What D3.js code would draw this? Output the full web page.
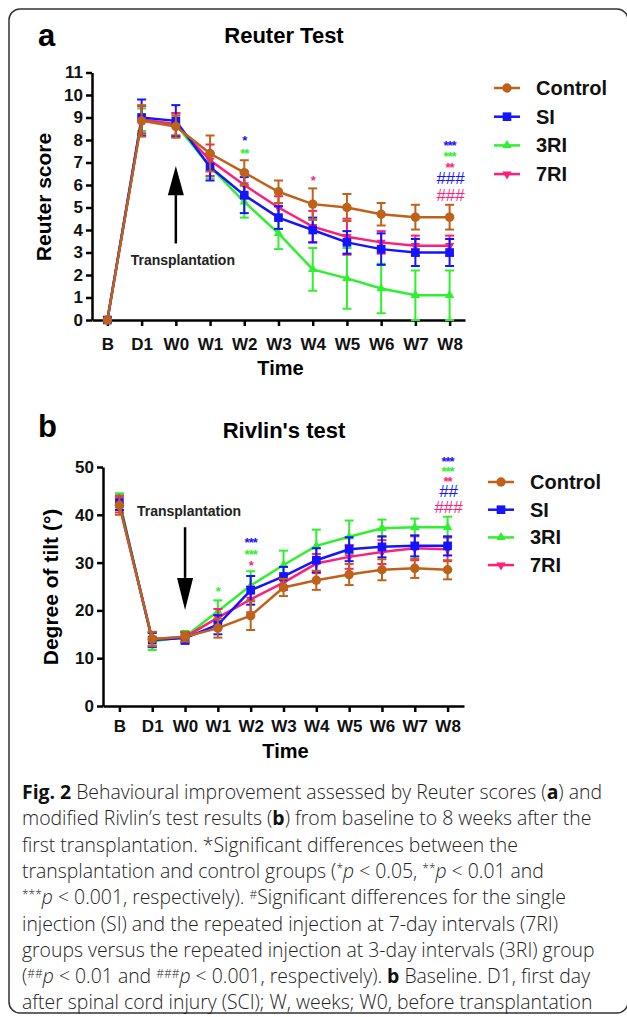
<!DOCTYPE html>
<html>
<head>
<meta charset="utf-8">
<script src="https://cdn.jsdelivr.net/npm/d3@7"></script>
<style>
  body { margin: 0; background: #fff; }
  svg text { font-family: 'Liberation Sans', Arial, sans-serif; }
  .cap { font-family: 'Open Sans', sans-serif !important; font-size: 19.4px; fill: #222; font-weight: 300; }
</style>
</head>
<body>
<svg id="fig" width="627" height="1017"></svg>
<script>
// ---- data ----
var categories = ['B', 'D1', 'W0', 'W1', 'W2', 'W3', 'W4', 'W5', 'W6', 'W7', 'W8'];
var groups = ['Control', 'SI', '3RI', '7RI'];
var colors = ['#c0611a', '#1414ff', '#2ef02e', '#ff1f7a'];

var reuterControl = [0, 8.85, 8.6, 7.4, 6.55, 5.7, 5.15, 5.0, 4.7, 4.57, 4.57];
var reuterControlErr = [0, 0.7, 0.5, 0.8, 0.55, 0.5, 0.7, 0.6, 0.5, 0.55, 0.55];
var reuterSI = [0, 9.0, 8.85, 6.8, 5.55, 4.55, 4.0, 3.45, 3.15, 3.0, 3.0];
var reuterSIErr = [0, 0.8, 0.7, 0.6, 0.8, 0.5, 0.55, 0.5, 0.7, 0.6, 0.6];
var reuter3RI = [0, 8.9, 8.7, 6.8, 5.25, 3.85, 2.25, 1.85, 1.4, 1.1, 1.1];
var reuter3RIErr = [0, 0.5, 0.5, 0.5, 0.7, 0.7, 0.95, 1.35, 1.1, 1.1, 1.1];
var reuter7RI = [0, 8.9, 8.7, 7.1, 6.0, 5.0, 4.15, 3.7, 3.45, 3.3, 3.3];
var reuter7RIErr = [0, 0.6, 0.5, 0.7, 0.6, 0.5, 0.7, 0.8, 0.5, 0.45, 0.45];

var rivlinControl = [42, 14.0, 14.5, 16.3, 18.9, 24.8, 26.3, 27.5, 28.5, 28.8, 28.5];
var rivlinControlErr = [2, 1.5, 1.0, 2.0, 3.0, 1.8, 2.0, 2.2, 2.2, 2.0, 2.0];
var rivlinSI = [42.5, 13.8, 14.2, 17.0, 24.2, 27.1, 30.5, 32.8, 33.3, 33.5, 33.5];
var rivlinSIErr = [1.5, 1.5, 1.2, 2.0, 3.0, 2.0, 2.5, 2.5, 2.2, 2.2, 2.0];
var rivlin3RI = [43, 13.5, 14.5, 19.8, 25.2, 29.5, 33.5, 35.4, 37.2, 37.4, 37.4];
var rivlin3RIErr = [1.5, 1.8, 1.2, 2.3, 3.0, 3.0, 3.4, 3.4, 1.8, 1.8, 2.2];
var rivlin7RI = [42, 14.0, 14.4, 18.5, 22.3, 25.8, 29.8, 31.2, 32.2, 33.0, 32.8];
var rivlin7RIErr = [1.5, 1.5, 1.0, 1.8, 2.7, 1.5, 2.0, 2.5, 2.5, 2.5, 2.5];

var reuterTicks = [0, 1, 2, 3, 4, 5, 6, 7, 8, 9, 10, 11];
var rivlinTicks = [0, 10, 20, 30, 40, 50];

// significance marks: [category, group index, text, value where the mark sits]
var reuterSig = [
  ['W2', 1, '*', 8.1], ['W2', 2, '**', 7.5], ['W4', 3, '*', 6.3],
  ['W8', 1, '***', 7.85], ['W8', 2, '***', 7.4], ['W8', 3, '**', 6.9],
  ['W8', 1, '###', 6.3], ['W8', 3, '###', 5.55]
];
var rivlinSig = [
  ['W1', 2, '*', 24.5],
  ['W2', 1, '***', 34.7], ['W2', 2, '***', 32.2], ['W2', 3, '*', 29.9],
  ['W8', 1, '***', 51.7], ['W8', 2, '***', 49.6], ['W8', 3, '**', 47.5],
  ['W8', 1, '##', 45.0], ['W8', 3, '###', 41.6]
];

var svg = d3.select('#fig');

// frame
svg.append('rect').attr('x', 9).attr('y', 9).attr('width', 619).attr('height', 1004)
  .attr('rx', 11).attr('fill', 'none').attr('stroke', '#333').attr('stroke-width', 1.5);

var symbols = [d3.symbolCircle, d3.symbolSquare, d3.symbolTriangle, d3.symbolTriangle];
var symSizes = [70, 75, 38, 38];

function marker(g, i, x, y) {
  g.append('path')
    .attr('d', d3.symbol().type(symbols[i]).size(symSizes[i])())
    .attr('transform', 'translate(' + x + ',' + y + ')' + (i === 3 ? ' rotate(180)' : ''))
    .attr('fill', colors[i]);
}

function panel(opt) {
  var g = svg.append('g');
  var x = d3.scalePoint().domain(categories).range([opt.left, opt.right]).padding(opt.pad);
  var y = d3.scaleLinear().domain(opt.domain).range([opt.bottom, opt.top]);

  g.append('text').attr('x', 38).attr('y', opt.letterY).text(opt.letter)
    .attr('font-size', 31).attr('font-weight', 700);
  g.append('text').attr('x', 284).attr('y', opt.titleY).text(opt.title)
    .attr('text-anchor', 'middle').attr('font-size', 22).attr('font-weight', 700);

  var ya = g.append('g').attr('transform', 'translate(' + opt.left + ',0)')
    .call(d3.axisLeft(y).tickValues(opt.ticks).tickSize(6).tickPadding(opt.yPad).tickSizeOuter(0));
  var xa = g.append('g').attr('transform', 'translate(0,' + opt.bottom + ')')
    .call(d3.axisBottom(x).tickSize(6).tickPadding(opt.xPad).tickSizeOuter(0));
  [ya, xa].forEach(function(a) {
    a.selectAll('path, line').attr('stroke', '#000').attr('stroke-width', 2.5);
    a.selectAll('text').attr('font-size', 17).attr('font-weight', 700).attr('fill', '#111')
      .attr('font-family', 'Liberation Sans, Arial, sans-serif');
  });

  g.append('text').attr('transform', 'translate(' + opt.ylabX + ',' + opt.ylabY + ') rotate(-90)')
    .attr('text-anchor', 'middle').attr('font-size', 21).attr('font-weight', 700).text(opt.ylabel);
  g.append('text').attr('x', (opt.left + opt.right) / 2 + 2).attr('y', opt.timeY)
    .attr('text-anchor', 'middle').attr('font-size', 20).attr('font-weight', 700).text('Time');

  // arrow + label
  var ax = x('W0');
  g.append('line').attr('x1', ax).attr('x2', ax).attr('y1', y(opt.arrow[0])).attr('y2', y(opt.arrow[1]))
    .attr('stroke', '#000').attr('stroke-width', 2.5);
  var hb = y(opt.arrow[1]), ht = y(opt.arrow[2]);
  g.append('path').attr('d', 'M' + (ax - 8) + ',' + hb + 'L' + (ax + 8) + ',' + hb + 'L' + ax + ',' + ht + 'Z')
    .attr('fill', '#000');
  g.append('text').attr('x', ax + opt.tlDx).attr('y', y(opt.tlVal)).attr('text-anchor', 'middle')
    .attr('font-size', 14).attr('font-weight', 700).attr('fill', '#222').text('Transplantation');

  // series, drawn green, pink, blue, brown so brown ends on top
  var order = [2, 3, 1, 0];
  var line = d3.line().x(function(d, i) { return x(categories[i]); }).y(function(d) { return y(d); });
  order.forEach(function(gi) {
    var s = g.append('g');
    var vals = opt.series[gi], err = opt.errs[gi];
    s.append('path').datum(vals).attr('d', line).attr('fill', 'none')
      .attr('stroke', colors[gi]).attr('stroke-width', 2.5);
    vals.forEach(function(v, i) {
      if (!err[i]) return;
      var cx = x(categories[i]);
      var lo = y(Math.max(opt.domain[0], v - err[i])), hi = y(v + err[i]);
      s.append('line').attr('x1', cx).attr('x2', cx).attr('y1', lo).attr('y2', hi)
        .attr('stroke', colors[gi]).attr('stroke-width', 2);
      [lo, hi].forEach(function(yy) {
        s.append('line').attr('x1', cx - 4.5).attr('x2', cx + 4.5).attr('y1', yy).attr('y2', yy)
          .attr('stroke', colors[gi]).attr('stroke-width', 2);
      });
    });
    vals.forEach(function(v, i) { marker(s, gi, x(categories[i]), y(v)); });
  });

  // significance marks
  opt.sig.forEach(function(m) {
    var star = m[2].charAt(0) === '*';
    g.append('text').attr('x', x(m[0]) + (star ? 0 : 1)).attr('y', y(m[3]) + (star ? 7 : 6))
      .attr('text-anchor', 'middle').attr('fill', colors[m[1]])
      .attr('font-size', star ? 13 : 17).attr('font-weight', star ? 700 : 400)
      .attr('letter-spacing', star ? -1 : 0).text(m[2]);
  });

  // legend
  groups.forEach(function(name, i) {
    var ly = opt.legY + i * opt.legStep;
    g.append('line').attr('x1', opt.legX).attr('x2', opt.legX + 26).attr('y1', ly).attr('y2', ly)
      .attr('stroke', colors[i]).attr('stroke-width', 2.5);
    marker(g, i, opt.legX + 13, ly);
    g.append('text').attr('x', opt.legX + 42).attr('y', ly + 7).attr('font-size', 20)
      .attr('font-weight', 700).attr('fill', '#111').text(name);
  });
}

panel({
  letter: 'a', letterY: 46, title: 'Reuter Test', titleY: 43,
  left: 92, right: 465, pad: 0.45, top: 72.5, bottom: 320, domain: [0, 11], ticks: reuterTicks,
  yPad: 3, xPad: 12, ylabel: 'Reuter score', ylabX: 51, ylabY: 197, timeY: 375,
  arrow: [3.4, 5.55, 6.85], tlDx: 7, tlVal: 2.45,
  series: [reuterControl, reuterSI, reuter3RI, reuter7RI],
  errs: [reuterControlErr, reuterSIErr, reuter3RIErr, reuter7RIErr],
  sig: reuterSig, legX: 494, legY: 88, legStep: 28.7
});

panel({
  letter: 'b', letterY: 437, title: "Rivlin's test", titleY: 438,
  left: 103, right: 464, pad: 0.5, top: 467, bottom: 706, domain: [0, 50], ticks: rivlinTicks,
  yPad: 3, xPad: 8, ylabel: 'Degree of tilt (°)', ylabX: 58, ylabY: 587, timeY: 758,
  arrow: [37.4, 26.8, 20.1], tlDx: 4, tlVal: 39.7,
  series: [rivlinControl, rivlinSI, rivlin3RI, rivlin7RI],
  errs: [rivlinControlErr, rivlinSIErr, rivlin3RIErr, rivlin7RIErr],
  sig: rivlinSig, legX: 488, legY: 482, legStep: 27.7
});

// caption
var capLines = [
  [['Fig. 2', 'b'], [' Behavioural improvement assessed by Reuter scores ('], ['a', 'b'], [') and']],
  [['modified Rivlin\u2019s test results ('], ['b', 'b'], [') from baseline to 8 weeks after the']],
  [['first transplantation. *Significant differences between the']],
  [['transplantation and control groups ('], ['*', 'sup'], ['p', 'i'], [' < 0.05, '], ['**', 'sup'], ['p', 'i'], [' < 0.01 and']],
  [['***', 'sup'], ['p', 'i'], [' < 0.001, respectively). '], ['#', 'sup'], ['Significant differences for the single']],
  [['injection (SI) and the repeated injection at 7-day intervals (7RI)']],
  [['groups versus the repeated injection at 3-day intervals (3RI) group']],
  [['('], ['##', 'sup'], ['p', 'i'], [' < 0.01 and '], ['###', 'sup'], ['p', 'i'], [' < 0.001, respectively). '], ['b', 'b'], [' Baseline. D1, first day']],
  [['after spinal cord injury (SCI); W, weeks; W0, before transplantation']]
];
capLines.forEach(function(parts, li) {
  var t = svg.append('text').attr('class', 'cap').attr('x', 22).attr('y', 799 + li * 26.3);
  parts.forEach(function(p) {
    var sp = t.append('tspan').text(p[0]);
    if (p[1] === 'b') sp.attr('font-weight', 700).attr('fill', '#111');
    if (p[1] === 'i') sp.attr('font-style', 'italic');
    if (p[1] === 'sup') sp.attr('font-size', 12).attr('baseline-shift', '40%');
  });
});
</script>
</body>
</html>
